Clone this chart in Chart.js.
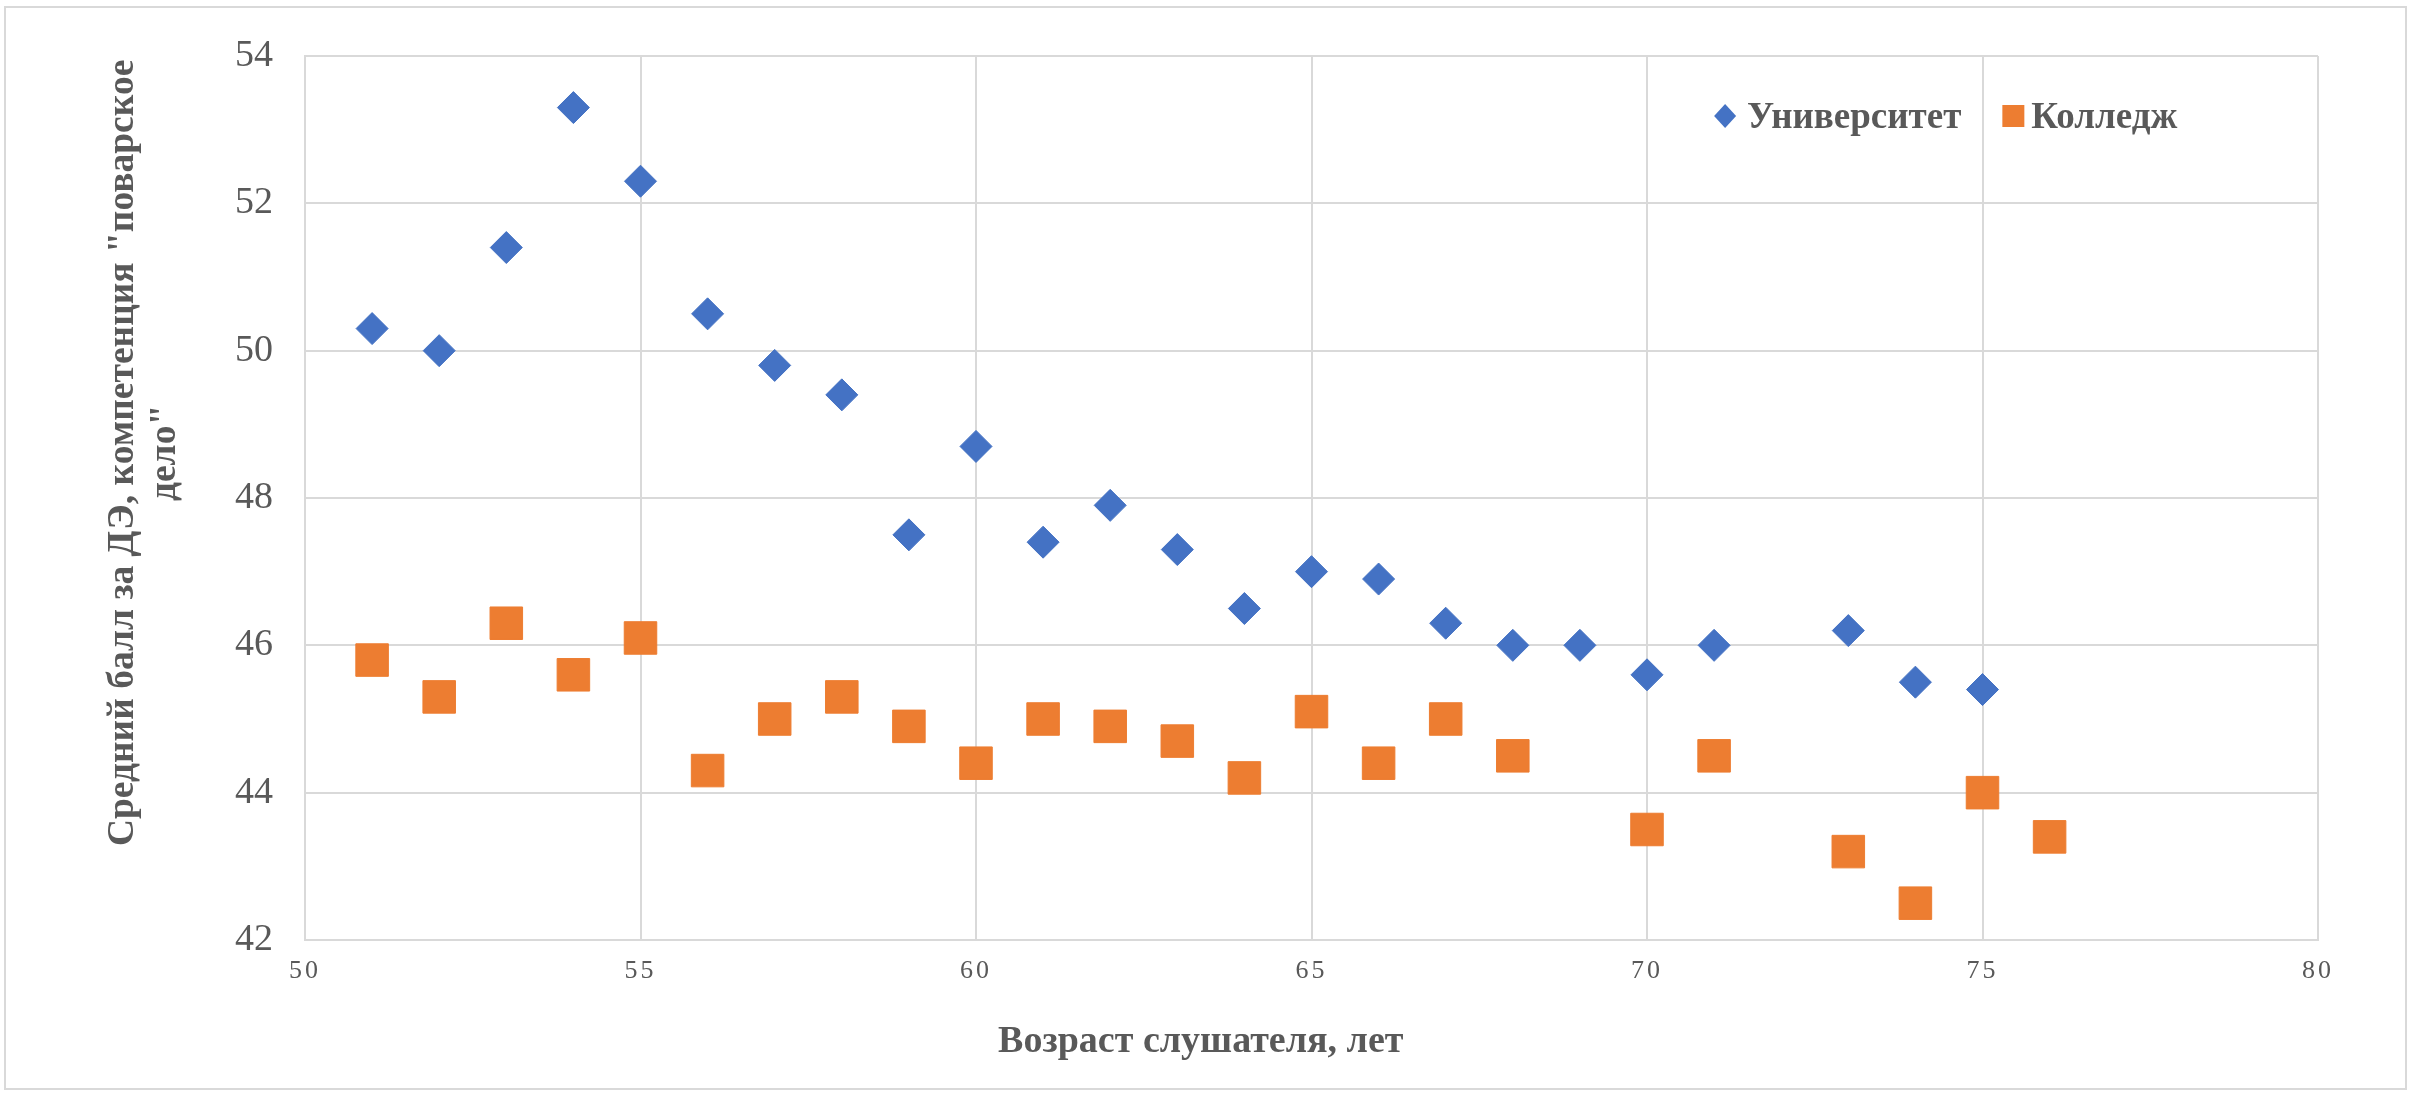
<!DOCTYPE html>
<html lang="ru">
<head>
<meta charset="utf-8">
<title>Средний балл за ДЭ по возрасту</title>
<script src="https://cdn.jsdelivr.net/npm/chart.js@4.4.1/dist/chart.umd.min.js"></script>
<style>
  html, body { margin: 0; padding: 0; background: #fff; }
  canvas { display: block; }
</style>
</head>
<body>
<canvas id="scatterChart" width="2412" height="1094"></canvas>
<script>
// ages of the listeners
const ages = [51, 52, 53, 54, 55, 56, 57, 58, 59, 60, 61, 62, 63, 64, 65, 66, 67, 68, 69, 70, 71, 72, 73, 74, 75, 76];
// mean score, null = no point for that age
const university = [50.3, 50.0, 51.4, 53.3, 52.3, 50.5, 49.8, 49.4, 47.5, 48.7, 47.4, 47.9, 47.3, 46.5, 47.0, 46.9, 46.3, 46.0, 46.0, 45.6, 46.0, null, 46.2, 45.5, 45.4, null];
const college = [45.8, 45.3, 46.3, 45.6, 46.1, 44.3, 45.0, 45.3, 44.9, 44.4, 45.0, 44.9, 44.7, 44.2, 45.1, 44.4, 45.0, 44.5, null, 43.5, 44.5, null, 43.2, 42.5, 44.0, 43.4];
const seriesNames = ['Университет', 'Колледж'];
const xTicks = [50, 55, 60, 65, 70, 75, 80];
const yTicks = [42, 44, 46, 48, 50, 52, 54];
const xTitle = 'Возраст слушателя, лет';
const yTitle = ['Средний балл за ДЭ, компетенция "поварское', 'дело"'];

const BLUE = '#4472C4';
const ORANGE = '#ED7D31';
const GREY = '#595959';
const GRID = '#d9d9d9';
const SERIF = '"Liberation Serif", "Times New Roman", serif';

const toPoints = (vals) => ages
  .map((age, i) => ({ x: age, y: vals[i] }))
  .filter((p) => p.y !== null);

// white page + thin frame round the whole chart
const frame = {
  id: 'frame',
  beforeDraw(chart) {
    const { ctx, width, height } = chart;
    ctx.save();
    ctx.fillStyle = '#fff';
    ctx.fillRect(0, 0, width, height);
    ctx.strokeStyle = GRID;
    ctx.lineWidth = 2;
    ctx.strokeRect(5, 7, width - 11, height - 12);
    ctx.restore();
  },
  // x tick labels are a little spaced out in the original
  afterLayout(chart) {
    const xs = chart.scales.x;
    if (xs._spaced) return;
    const orig = xs.drawLabels;
    xs.drawLabels = function (area) {
      this.ctx.save();
      this.ctx.letterSpacing = '3px';
      orig.call(this, area);
      this.ctx.restore();
    };
    xs._spaced = true;
  },
};

// axis titles: both sit off-centre in the original, so they are drawn here
const axisTitles = {
  id: 'axisTitles',
  afterDraw(chart) {
    const { ctx, chartArea } = chart;
    ctx.save();
    ctx.fillStyle = GREY;
    ctx.textAlign = 'center';
    ctx.textBaseline = 'alphabetic';
    ctx.font = 'bold 38px ' + SERIF;
    ctx.fillText(xTitle, chartArea.left + chartArea.width * 0.445, chartArea.bottom + 112);

    ctx.font = 'bold 37.5px ' + SERIF;
    ctx.translate(chartArea.left - 172, chartArea.top + chartArea.height * 0.449);
    ctx.rotate(-Math.PI / 2);
    yTitle.forEach((line, i) => {
      ctx.fillText(line, 0, i * 42);
    });
    ctx.restore();
  },
};

// legend drawn inside the plot, top right
const innerLegend = {
  id: 'innerLegend',
  afterDraw(chart) {
    const { ctx, chartArea } = chart;
    const cy = chartArea.top + 60;
    let x = chartArea.left + chartArea.width * 0.7;
    ctx.save();
    ctx.font = 'bold 37px ' + SERIF;
    ctx.textBaseline = 'alphabetic';
    ctx.textAlign = 'left';
    chart.data.datasets.forEach((ds, i) => {
      ctx.fillStyle = ds.backgroundColor;
      ctx.beginPath();
      if (ds.pointStyle === 'rectRot') {
        ctx.moveTo(x + 11, cy - 12);
        ctx.lineTo(x + 22, cy);
        ctx.lineTo(x + 11, cy + 12);
        ctx.lineTo(x, cy);
        ctx.closePath();
      } else {
        ctx.rect(x, cy - 11, 22, 22);
      }
      ctx.fill();
      x += i === 0 ? 33 : 29;
      ctx.fillStyle = GREY;
      ctx.fillText(ds.label, x, cy + 12);
      x += ctx.measureText(ds.label).width + 41;
    });
    ctx.restore();
  },
};

const ctx = document.getElementById('scatterChart');
const scatterChart = new Chart(ctx, {
  type: 'scatter',
  data: {
    datasets: [{
      label: seriesNames[0],
      data: toPoints(university),
      pointStyle: 'rectRot',
      pointRadius: 16,
      pointHoverRadius: 16,
      backgroundColor: BLUE,
      borderColor: BLUE,
      borderWidth: 1,
    }, {
      label: seriesNames[1],
      data: toPoints(college),
      pointStyle: 'rect',
      pointRadius: 23,
      pointHoverRadius: 23,
      backgroundColor: ORANGE,
      borderColor: ORANGE,
      borderWidth: 1,
    }],
  },
  options: {
    responsive: false,
    devicePixelRatio: 1,
    animation: false,
    layout: { padding: { left: 0, top: 56, right: 94, bottom: 0 } },
    plugins: {
      legend: { display: false },
      tooltip: { enabled: false },
    },
    scales: {
      x: {
        type: 'linear',
        min: xTicks[0],
        max: xTicks[xTicks.length - 1],
        afterBuildTicks: (scale) => { scale.ticks = xTicks.map((v) => ({ value: v })); },
        grid: { color: GRID, lineWidth: 2, drawTicks: false },
        border: { color: GRID, width: 2 },
        ticks: {
          color: GREY,
          padding: 16,
          font: { family: SERIF, size: 26 },
        },
        afterFit: (scale) => { scale.height = 154; },
      },
      y: {
        type: 'linear',
        min: yTicks[0],
        max: yTicks[yTicks.length - 1],
        afterBuildTicks: (scale) => { scale.ticks = yTicks.map((v) => ({ value: v })); },
        grid: { color: GRID, lineWidth: 2, drawTicks: false },
        border: { color: GRID, width: 2 },
        ticks: {
          color: GREY,
          padding: 32,
          font: { family: SERIF, size: 38 },
        },
        afterFit: (scale) => { scale.width = 305; },
      },
    },
  },
  plugins: [frame, axisTitles, innerLegend],
});
</script>
</body>
</html>
